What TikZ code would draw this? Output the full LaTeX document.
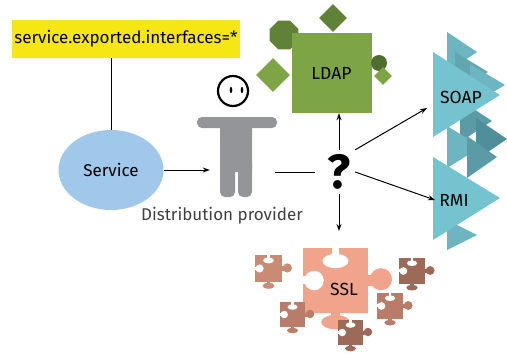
\documentclass[tikz,border=0pt]{standalone}
\usepackage{fontspec}
\setmainfont{Fira Sans}
\usetikzlibrary{shapes.geometric,arrows.meta}

\definecolor{propyellow}{HTML}{F5E614}
\definecolor{svcblue}{HTML}{A0C8EA}
\definecolor{provgray}{HTML}{939598}
\definecolor{ldapgreen}{HTML}{7EA545}
\definecolor{ldapdark}{HTML}{5F8237}
\definecolor{ldapdeep}{HTML}{4E6E2E}
\definecolor{tealA}{HTML}{74C3CF}
\definecolor{tealB}{HTML}{6CB5C1}
\definecolor{tealC}{HTML}{62A6B0}
\definecolor{tealD}{HTML}{4F8F99}
\definecolor{tealE}{HTML}{5A9BA5}
\definecolor{sslsalmon}{HTML}{F0A48C}
\definecolor{sslA}{HTML}{C98A76}
\definecolor{sslB}{HTML}{B97C68}
\definecolor{sslC}{HTML}{9E6A58}

\tikzset{
  piece/.pic={
    \fill[pic actions] (0,0) rectangle (1,1);
    \fill[pic actions] (1,.42) rectangle (1.12,.58);
    \fill[pic actions] (1.2,.48) circle (.17);
    \fill[pic actions] (.43,1) rectangle (.57,1.08);
    \fill[pic actions] (.5,1.14) ellipse (.22 and .11);
    \fill[white] (.45,-.01) rectangle (.55,.1);
    \fill[white] (.5,.2) ellipse (.2 and .11);
    \fill[white] (-.01,.43) rectangle (.06,.55);
    \fill[white] (.17,.5) circle (.15);
  }
}

\begin{document}
\begin{tikzpicture}[x=1pt,y=-1pt,
    prop/.style={fill=propyellow, minimum width=228, minimum height=38,
                 inner sep=0pt, font=\fontsize{17}{19}\selectfont},
    svc/.style={ellipse, fill=svcblue, minimum width=105, minimum height=80,
                inner sep=0pt, font=\fontsize{17}{19}\selectfont},
    tag/.style={font=\fontsize{17.5}{19}\selectfont},
    lbl/.style={font=\fontsize{17}{19}\selectfont, text=black!75},
    quest/.style={minimum width=32, minimum height=44, inner sep=0pt,
                  font=\fontsize{48}{48}\selectfont\bfseries},
    line/.style={line width=1pt},
    arr/.style={-{Stealth[length=7pt,width=5pt]}, line width=1pt}
  ]
    \useasboundingbox (0,0) rectangle (507,356);

    \node[prop] (props) at (126,39) {service.exported.interfaces=*};
    \node[svc] (svc) at (111,170) {Service};

    % person
    \fill[provgray, rounded corners=5pt] (197,117) rectangle (277,128);
    \fill[provgray, rounded corners=3pt] (220,117) rectangle (252,172);
    \fill[provgray, rounded corners=5pt] (220,160) rectangle (235,197);
    \fill[provgray, rounded corners=5pt] (238,160) rectangle (252,197);
    \draw[line width=2.2pt, fill=white] (233,91) circle (15);
    \fill (231,90) ellipse (1.3 and 3);
    \fill (242,90) ellipse (1.3 and 3);
    \node[minimum width=65, minimum height=122, inner sep=0pt] (prov) at (242.5,136) {};
    \node[lbl] (provlbl) at (222,216) {Distribution provider};

    \node[quest] (q) at (339,172) {?};

    % ldap
    \node[regular polygon, regular polygon sides=8, fill=ldapdark, minimum size=31, inner sep=0pt] at (284,35) {};
    \node[fill=ldapgreen, minimum size=80, inner sep=0pt, tag] (ldap) at (331.5,73) {LDAP};
    \node[diamond, fill=ldapdark, minimum size=28, inner sep=0pt] at (333,18) {};
    \node[diamond, fill=ldapgreen, minimum size=34, inner sep=0pt] at (273,75) {};
    \fill[ldapdeep] (379,63) circle (8);
    \node[diamond, fill=ldapgreen, minimum size=18, inner sep=0pt] at (383,76) {};

    % soap and rmi
    \fill[tealB] (447,32) -- (447,72) -- (477,52) -- cycle;
    \fill[tealC] (455,52) -- (455,92) -- (488,72) -- cycle;
    \fill[tealB] (470,64) -- (470,106) -- (505,85) -- cycle;
    \fill[tealE] (460,100) -- (460,142) -- (492,121) -- cycle;
    \fill[tealD] (476,118) -- (476,160) -- (507,139) -- cycle;
    \fill[tealB] (447,126) -- (447,168) -- (481,147) -- cycle;
    \fill[tealE] (467,136) -- (467,178) -- (497,157) -- cycle;
    \fill[tealB] (447,220) -- (447,250) -- (477,235) -- cycle;
    \fill[tealA] (433,52) -- (433,137) -- (500,95) -- cycle;
    \fill[tealA] (433,157) -- (433,240) -- (500,198) -- cycle;
    \node[tag] (soap) at (461,97) {SOAP};
    \node[tag] (rmi) at (454,200) {RMI};
    \coordinate (soapin) at (427,108);
    \coordinate (rmiin) at (435,200);

    % ssl
    \pic[fill=sslsalmon, scale=65] at (303,248) {piece};
    \pic[fill=sslA, scale=27] at (255,255) {piece};
    \pic[fill=sslB, scale=25] at (280,302) {piece};
    \pic[fill=sslC, scale=25] at (338,320) {piece};
    \pic[fill=sslB, scale=26] at (377,293) {piece};
    \pic[fill=sslC, scale=26] at (399,258) {piece};
    \node[tag] (ssl) at (344,289) {SSL};
    \coordinate (sslin) at (339,231);

    \draw[line] (svc.north) -- (svc.north |- props.south);
    \draw[arr] (svc.east) -- (prov.west |- svc.east);
    \draw[line] (prov.east |- q.west) -- ([xshift=-8pt]q.west);
    \draw[arr] (q.north) -- (q.north |- ldap.south);
    \draw[arr] (q.north east) -- (soapin);
    \draw[arr] (q.east) -- (rmiin);
    \draw[arr] (q.south) -- (sslin);
  \end{tikzpicture}
\end{document}
